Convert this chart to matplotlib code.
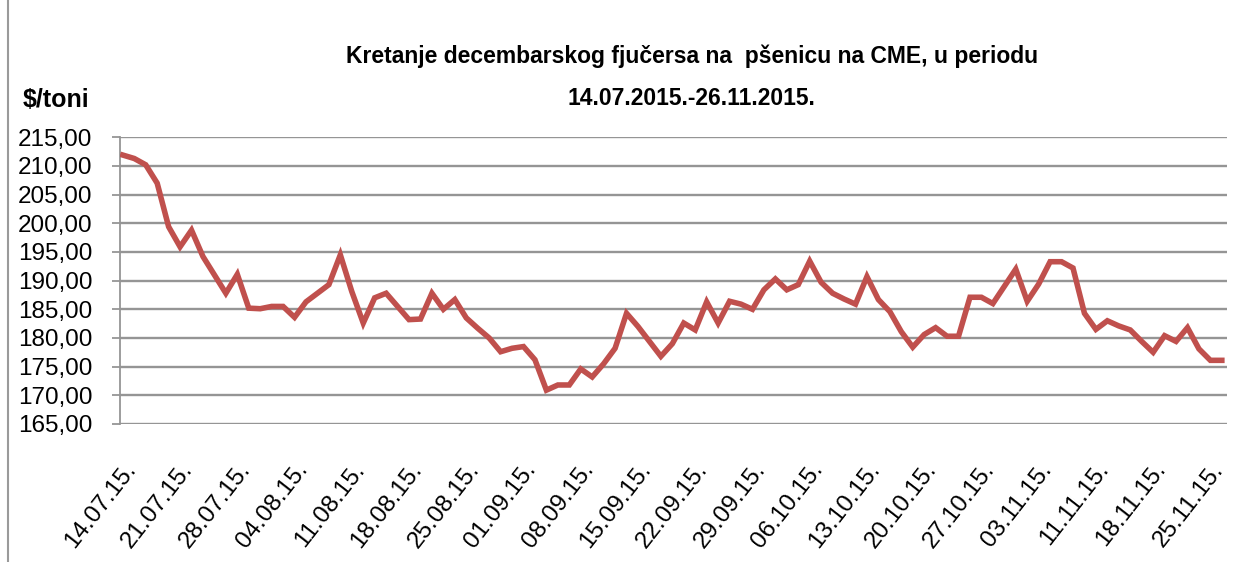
import matplotlib
matplotlib.use('Agg')
import matplotlib.pyplot as pyplot
import numpy

# daily settlement prices of the december wheat futures, $/t
prices = [211.9, 211.3, 210.2, 207.0, 199.4, 195.9, 198.8, 194.2, 191.0, 187.8,
          191.1, 185.2, 185.1, 185.5, 185.5, 183.6, 186.3, 187.8, 189.3, 194.5,
          188.1, 182.6, 187.0, 187.8, 185.5, 183.2, 183.3, 187.8, 185.0, 186.7,
          183.5, 181.7, 180.0, 177.6, 178.2, 178.5, 176.2, 170.9, 171.8, 171.8,
          174.6, 173.2, 175.5, 178.2, 184.3, 182.0, 179.4, 176.8, 179.0, 182.6,
          181.4, 186.3, 182.6, 186.4, 185.9, 185.0, 188.4, 190.3, 188.4, 189.3,
          193.4, 189.7, 187.8, 186.8, 185.9, 190.7, 186.7, 184.6, 181.1, 178.4,
          180.6, 181.8, 180.3, 180.3, 187.1, 187.1, 186.0, 189.0, 192.0, 186.4,
          189.4, 193.3, 193.3, 192.2, 184.3, 181.5, 183.0, 182.1, 181.4, 179.4,
          177.5, 180.4, 179.4, 181.8, 178.1, 176.1, 176.1]

# one label every 5 trading days
tick_labels = ['14.07.15.', '21.07.15.', '28.07.15.', '04.08.15.', '11.08.15.',
               '18.08.15.', '25.08.15.', '01.09.15.', '08.09.15.', '15.09.15.',
               '22.09.15.', '29.09.15.', '06.10.15.', '13.10.15.', '20.10.15.',
               '27.10.15.', '03.11.15.', '11.11.15.', '18.11.15.', '25.11.15.']
tick_step = 5

y_ticks = numpy.arange(165, 216, 5)

title = 'Kretanje decembarskog fjučersa na  pšenicu na CME, u periodu\n14.07.2015.-26.11.2015.'
y_label = '$/toni'

pyplot.rcParams['font.family'] = ['Liberation Sans', 'DejaVu Sans']

fig = pyplot.figure(figsize=(12.51, 5.62), dpi=100)
ax = fig.add_axes([0.0959, 0.2456, 0.8849, 0.5101])

x = numpy.arange(len(prices))
ax.plot(x, prices, color='#C0504D', linewidth=4.0, solid_joinstyle='miter', zorder=3)

ax.set_ylim(165, 215)
ax.set_xlim(-0.25, len(prices) - 0.55)
ax.set_yticks(y_ticks)
ax.set_yticklabels(['%d,00' % v for v in y_ticks], fontsize=17.5)
ax.yaxis.grid(True, color='#959595', linewidth=1.7)
ax.set_axisbelow(True)

ax.set_xticks(numpy.arange(0, len(tick_labels) * tick_step, tick_step))
ax.set_xticklabels(tick_labels, fontsize=17.5, rotation=52,
                   ha='right', va='top', rotation_mode='anchor')
ax.tick_params(axis='x', length=0, pad=25)
ax.tick_params(axis='y', length=6, width=1.3, color='#959595', pad=14)

for side in ['top', 'right', 'bottom']:
    ax.spines[side].set_visible(False)
ax.spines['left'].set_color('#959595')
ax.spines['left'].set_linewidth(1.3)

fig.text(0.553, 0.862, title, ha='center', va='center', fontsize=16.5,
         fontweight='bold', linespacing=2.05)
fig.text(0.018, 0.80, y_label, ha='left', va='bottom', fontsize=18,
         fontweight='bold')

# outer frame of the chart box
fig.add_artist(pyplot.Line2D([0.0066, 0.0066], [0, 1], color='#9a9a9a',
                             linewidth=1.5, transform=fig.transFigure))

fig.savefig('out.png', dpi=100, facecolor='white')
